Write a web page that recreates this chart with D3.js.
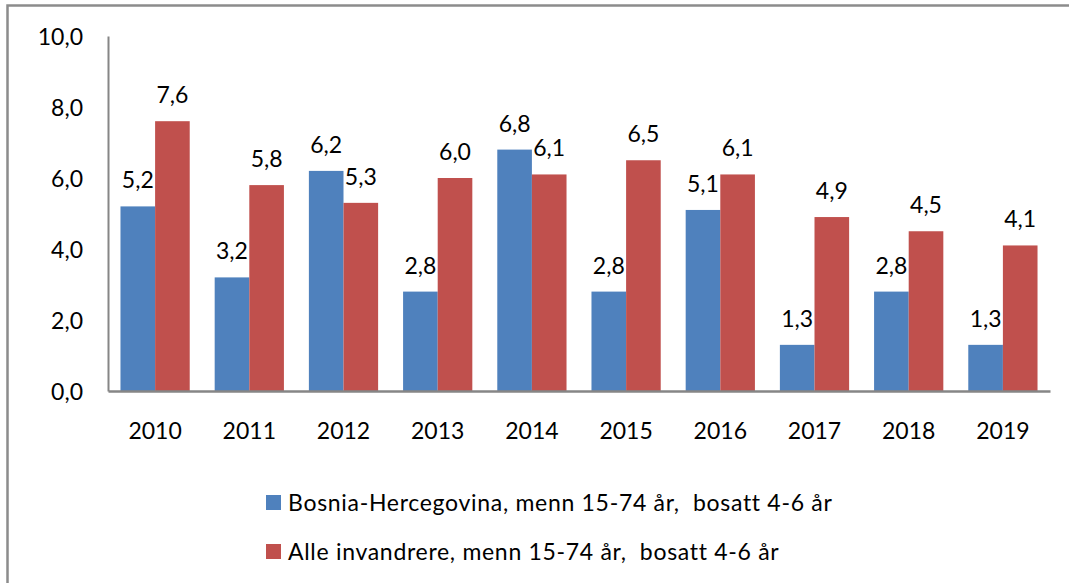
<!DOCTYPE html>
<html>
<head>
<meta charset="utf-8">
<script src="https://cdn.jsdelivr.net/npm/d3@7"></script>
<style>
	body { margin: 0; background: #fff; }
	text { font-family: Lato, "Open Sans", sans-serif; fill: #000; }
</style>
</head>
<body>
<div id="chart"></div>
<script>
const years = ['2010', '2011', '2012', '2013', '2014', '2015', '2016', '2017', '2018', '2019'];
const bosnia = [5.2, 3.2, 6.2, 2.8, 6.8, 2.8, 5.1, 1.3, 2.8, 1.3];
const alle = [7.6, 5.8, 5.3, 6.0, 6.1, 6.5, 6.1, 4.9, 4.5, 4.1];
const yTicks = [0, 2, 4, 6, 8, 10];
const seriesNames = [
	'Bosnia-Hercegovina, menn 15-74 år,  bosatt 4-6 år',
	'Alle invandrere, menn 15-74 år,  bosatt 4-6 år'
];
const colors = ['#4F81BD', '#C0504D'];

const W = 1069, H = 583;
const plot = { left: 108, right: 1050, top: 36, bottom: 391 };

const fmt = (v) => v.toFixed(1).replace('.', ',');

const svg = d3.select('#chart')
	.append('svg')
		.attr('width', W)
		.attr('height', H);

// outer frame (cut off at right and bottom like the reference)
svg.append('rect')
	.attr('x', 7.5)
	.attr('y', 5.5)
	.attr('width', W + 20)
	.attr('height', H + 20)
	.attr('fill', 'none')
	.attr('stroke', '#8c8c8c')
	.attr('stroke-width', 2.5);

let x = d3.scaleBand().domain(years).range([plot.left, plot.right]).paddingInner(0.265).paddingOuter(0.1325);
let xs = d3.scaleBand().domain([0, 1]).range([0, x.bandwidth()]);
let y = d3.scaleLinear().domain([0, 10]).range([plot.bottom, plot.top]);

let data = years.map((yr, i) => ({ year: yr, vals: [bosnia[i], alle[i]] }));

let groups = svg.selectAll('.grp')
	.data(data)
	.enter().append('g')
		.attr('class', 'grp')
		.attr('transform', (d) => 'translate(' + x(d.year) + ',0)');

groups.selectAll('rect')
	.data((d) => d.vals.map((v, k) => ({ v: v, k: k })))
	.enter().append('rect')
		.attr('x', (d) => xs(d.k))
		.attr('y', (d) => y(d.v))
		.attr('width', xs.bandwidth())
		.attr('height', (d) => y(0) - y(d.v))
		.attr('fill', (d) => colors[d.k]);

groups.selectAll('.lbl')
	.data((d) => d.vals.map((v, k) => ({ v: v, k: k })))
	.enter().append('text')
		.attr('class', 'lbl')
		.attr('x', (d) => xs(d.k) + xs.bandwidth() / 2)
		.attr('y', (d) => y(d.v) - 18)
		.attr('text-anchor', 'middle')
		.style('font-size', '23px')
		.text((d) => fmt(d.v));

// axes
let yAxis = d3.axisLeft(y).tickValues(yTicks).tickFormat(fmt).tickSize(0).tickPadding(25);
let gy = svg.append('g')
	.attr('transform', 'translate(' + plot.left + ',0)')
	.call(yAxis);
gy.select('.domain').attr('stroke', '#868686').attr('stroke-width', 2);
gy.selectAll('text').style('font-size', '23px').attr('dy', '0.35em');

let xAxis = d3.axisBottom(x).tickSize(0).tickPadding(32);
let gx = svg.append('g')
	.attr('transform', 'translate(0,' + plot.bottom + ')')
	.call(xAxis);
gx.select('.domain').attr('stroke', '#868686').attr('stroke-width', 2.5);
gx.selectAll('text').style('font-size', '23px');

// legend
let legend = svg.selectAll('.leg')
	.data(seriesNames)
	.enter().append('g')
		.attr('class', 'leg')
		.attr('transform', (d, i) => 'translate(266,' + (495 + i * 49) + ')');

legend.append('rect')
	.attr('width', 15)
	.attr('height', 15)
	.attr('fill', (d, i) => colors[i]);

legend.append('text')
	.attr('x', 22)
	.attr('y', 7.5)
	.attr('dy', '0.35em')
	.style('font-size', '23px')
	.style('letter-spacing', '0.7px')
	.style('white-space', 'pre')
	.text((d) => d);
</script>
</body>
</html>
